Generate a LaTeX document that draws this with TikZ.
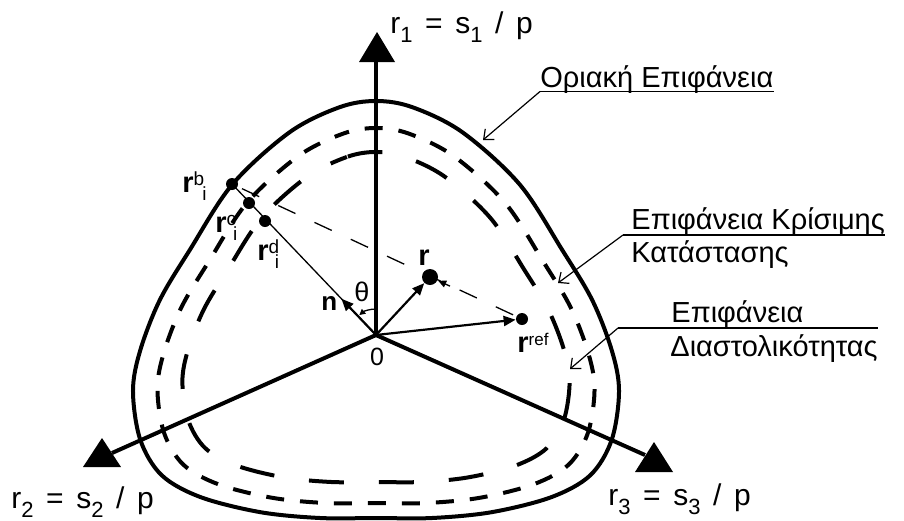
\documentclass[tikz,border=0pt]{standalone}
\usepackage{fontspec}
\setmainfont{Liberation Sans}
\usetikzlibrary{arrows.meta,calc}

\newcommand\supf{\fontsize{9.5pt}{10pt}\selectfont}
\newcommand\reff{\fontsize{8.5pt}{10pt}\selectfont}
\newcommand\mysub[1]{\raisebox{-4.5pt}{\fontsize{11pt}{12pt}\selectfont #1}}
\newcommand\axgap{\hspace{6.3pt}}
\newcommand\rlab[3]{\textbf{r}\raisebox{3.5pt}{\supf #1}\hspace{#3}\raisebox{-4pt}{\supf #2}}
\newcommand\surface[5]{\draw[#1, shift={(#2,#3)}, xscale=#4, yscale=#5]
  plot[smooth cycle, tension=0.55] coordinates {
  (0,1) (-0.15,0.97) (-0.355,0.85) (-0.59,0.60) (-0.765,0.285) (-0.888,0.045)
  (-0.968,-0.195) (-0.998,-0.39) (-0.968,-0.625) (-0.88,-0.795) (-0.72,-0.9)
  (-0.475,-0.972) (-0.23,-1.0) (0,-1.0) (0.23,-1.0) (0.475,-0.972) (0.72,-0.9)
  (0.88,-0.795) (0.968,-0.625) (0.998,-0.39) (0.968,-0.195) (0.888,0.045)
  (0.765,0.285) (0.59,0.60) (0.355,0.85) (0.15,0.97)};}

\begin{document}
\begin{tikzpicture}[x=0.5pt,y=-0.5pt,
  axisline/.style={line width=2pt},
  surf/.style={line width=2pt},
  critsurf/.style={surf, dash pattern=on 9pt off 8pt, dash phase=4.5pt},
  dilsurf/.style={surf, dash pattern=on 17.5pt off 17.5pt, dash phase=8.75pt},
  dot/.style={circle, fill=black, inner sep=0pt, minimum size=6pt},
  bigdot/.style={dot, minimum size=8pt},
  vec/.style={line width=1.1pt, -{Triangle[length=6pt,width=5pt]}},
  thinline/.style={line width=0.65pt},
  leader/.style={line width=0.6pt, -{Straight Barb[length=4pt,width=7pt]}},
  lbl/.style={inner sep=0pt, anchor=base west, font=\fontsize{14.5pt}{17pt}\selectfont},
  axlbl/.style={inner sep=0pt, anchor=base west, font=\fontsize{15pt}{17pt}\selectfont},
]
\useasboundingbox (0,0) rectangle (904,520);

% surfaces
\surface{surf}{376}{309.5}{243.5}{-208.5}
\surface{critsurf}{376}{315.5}{219}{-187.5}
\surface{dilsurf}{376}{317}{194}{-165}

% axes
\coordinate (O) at (376,335);
\coordinate (A1) at (376,62);
\coordinate (A2) at (112,453);
\coordinate (A3) at (645,455);
\draw[axisline] (O) -- (A1);
\draw[axisline] (O) -- (A2);
\draw[axisline] (O) -- (A3);
\fill (377,32) -- (395,62) -- (359,62) -- cycle;
\fill (102,438) -- (121,467) -- (83,467) -- cycle;
\fill (654,442) -- (673,472) -- (635,472) -- cycle;

% axis labels
\node[axlbl] (l1) at (390,33) {r\mysub{1}\axgap=\axgap s\mysub{1}\axgap/\axgap p};
\node[axlbl] (l2) at (11,508) {r\mysub{2}\axgap=\axgap s\mysub{2}\axgap/\axgap p};
\node[axlbl] (l3) at (608,505) {r\mysub{3}\axgap=\axgap s\mysub{3}\axgap/\axgap p};

% points
\node[dot] (rb) at (232,184) {};
\node[dot] (rc) at (249,203) {};
\node[dot] (rd) at (265,221) {};
\node[bigdot] (r) at (430,277) {};
\node[dot] (ref) at (522,319) {};

% vectors and lines
\coordinate (nend) at ($(O)!0.24!(rb)$);
\draw[thinline] (rb.center) -- (O);
\draw[thinline, dash pattern=on 9.5pt off 10.5pt, dash phase=14.5pt] (rb.center) -- (ref.center);
\draw[vec] (O) -- (r);
\draw[vec] (O) -- (ref);
\draw[vec] (O) -- (nend);
\draw[thinline, -{Triangle[length=4pt,width=3.5pt]}] ($(r.center)!11pt!(ref.center)$) -- ($(r.center)!4.5pt!(ref.center)$);
\draw[thinline, -{Triangle[length=3pt,width=3pt]}] ($(O)+(0,-26)$) arc[start angle=90, end angle=130, radius=13pt];

% point labels
\node[lbl] (lrb) at (182,192) {\rlab{b}{i}{-1pt}};
\node[lbl] (lrc) at (215,232) {\rlab{c}{i}{-1.5pt}};
\node[lbl] (lrd) at (257,260) {\rlab{d}{i}{-2.2pt}};
\node[lbl] (lr) at (418,265) {\textbf{r}};
\node[lbl] (lref) at (517,352) {\textbf{r}\raisebox{3.5pt}{\reff ref}};
\node[lbl, font=\bfseries\fontsize{13pt}{15pt}\selectfont] (ln) at (321,310) {n};
\node[lbl, font=\fontsize{13.5pt}{15pt}\selectfont] (lth) at (354,301) {θ};
\node[inner sep=0pt, anchor=base, font=\fontsize{12.5pt}{15pt}\selectfont] (l0) at (377,365) {0};

% surface labels
\node[lbl] (t1) at (540,87) {Οριακή Επιφάνεια};
\coordinate (u1) at (540,91.5);
\coordinate (tip1) at (483,140);
\draw[thinline] (u1) -- (u1 -| t1.east);
\draw[leader] (u1) -- (tip1);

\node[lbl] (t2) at (631,229) {Επιφάνεια Κρίσιμης};
\node[lbl] (t2b) at (631,262) {Κατάστασης};
\coordinate (u2) at (623,235);
\coordinate (tip2) at (558,283);
\draw[thinline] (u2) -- (u2 -| t2.east);
\draw[leader] (u2) -- (tip2);

\node[lbl] (t3) at (671,322) {Επιφάνεια};
\node[lbl] (t3b) at (670,356) {Διαστολικότητας};
\coordinate (u3) at (618,328);
\coordinate (tip3) at (570,369);
\draw[thinline] (u3) -- (u3 -| t3b.east);
\draw[leader] (u3) -- (tip3);
\end{tikzpicture}
\end{document}
